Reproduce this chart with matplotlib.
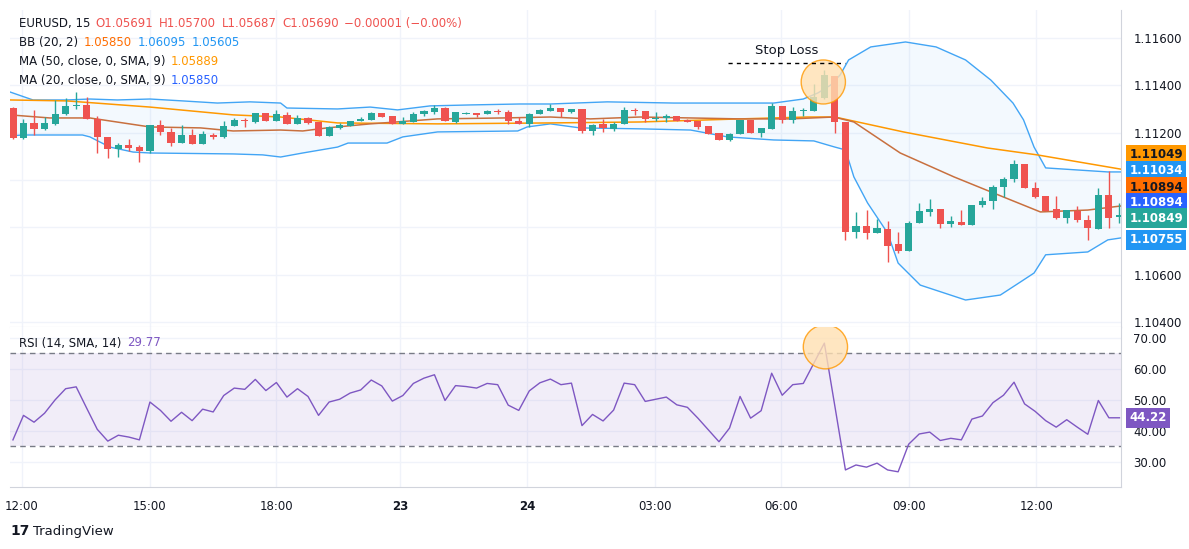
import numpy as np
import matplotlib
matplotlib.use("Agg")
import matplotlib.pyplot as plt
from matplotlib.patches import Ellipse

# --- data (EURUSD 15m) ---
opens = [1.11304, 1.11177, 1.11241, 1.11216, 1.11237, 1.11279, 1.11313, 1.11317, 1.11258, 1.11182,
         1.11131, 1.11148, 1.11139, 1.11123, 1.11232, 1.11203, 1.11156, 1.11190, 1.11152, 1.11190,
         1.11182, 1.11228, 1.11254, 1.11245, 1.11283, 1.11249, 1.11275, 1.11237, 1.11262, 1.11245,
         1.11186, 1.11220, 1.11228, 1.11249, 1.11254, 1.11283, 1.11270, 1.11237, 1.11245, 1.11279,
         1.11287, 1.11304, 1.11245, 1.11279, 1.11283, 1.11279, 1.11292, 1.11287, 1.11249, 1.11237,
         1.11279, 1.11292, 1.11304, 1.11287, 1.11300, 1.11207, 1.11237, 1.11216, 1.11237, 1.11296,
         1.11292, 1.11258, 1.11262, 1.11270, 1.11254, 1.11249, 1.11228, 1.11199, 1.11169, 1.11194,
         1.11254, 1.11199, 1.11216, 1.11313, 1.11254, 1.11292, 1.11292, 1.11347, 1.11439, 1.11245,
         1.10780, 1.10806, 1.10776, 1.10793, 1.10730, 1.10700, 1.10818, 1.10865, 1.10877, 1.10814,
         1.10823, 1.10810, 1.10894, 1.10911, 1.10970, 1.11004, 1.11068, 1.10966, 1.10932, 1.10877,
         1.10839, 1.10869, 1.10831, 1.10793, 1.10937, 1.10844]
highs = [1.11308, 1.11258, 1.11296, 1.11266, 1.11338, 1.11347, 1.11372, 1.11351, 1.11270, 1.11182,
         1.11156, 1.11173, 1.11148, 1.11232, 1.11254, 1.11220, 1.11232, 1.11216, 1.11207, 1.11199,
         1.11249, 1.11262, 1.11262, 1.11283, 1.11283, 1.11296, 1.11287, 1.11275, 1.11266, 1.11245,
         1.11228, 1.11241, 1.11249, 1.11266, 1.11287, 1.11283, 1.11270, 1.11266, 1.11287, 1.11296,
         1.11317, 1.11308, 1.11287, 1.11287, 1.11283, 1.11296, 1.11300, 1.11296, 1.11266, 1.11283,
         1.11300, 1.11321, 1.11304, 1.11300, 1.11300, 1.11237, 1.11258, 1.11245, 1.11308, 1.11304,
         1.11292, 1.11287, 1.11279, 1.11270, 1.11258, 1.11249, 1.11228, 1.11199, 1.11199, 1.11254,
         1.11254, 1.11220, 1.11325, 1.11313, 1.11308, 1.11304, 1.11406, 1.11465, 1.11439, 1.11245,
         1.10865, 1.10873, 1.10835, 1.10827, 1.10780, 1.10827, 1.10903, 1.10920, 1.10877, 1.10848,
         1.10873, 1.10894, 1.10928, 1.10979, 1.11013, 1.11085, 1.11068, 1.10992, 1.10932, 1.10932,
         1.10873, 1.10890, 1.10852, 1.10966, 1.11038, 1.10903]
lows = [1.11173, 1.11173, 1.11190, 1.11211, 1.11232, 1.11275, 1.11300, 1.11258, 1.11114, 1.11093,
        1.11097, 1.11123, 1.11076, 1.11114, 1.11190, 1.11144, 1.11156, 1.11152, 1.11152, 1.11173,
        1.11177, 1.11228, 1.11224, 1.11241, 1.11249, 1.11249, 1.11237, 1.11237, 1.11237, 1.11186,
        1.11186, 1.11216, 1.11228, 1.11249, 1.11254, 1.11266, 1.11237, 1.11237, 1.11245, 1.11270,
        1.11279, 1.11249, 1.11241, 1.11279, 1.11266, 1.11279, 1.11279, 1.11237, 1.11237, 1.11224,
        1.11279, 1.11292, 1.11266, 1.11283, 1.11199, 1.11190, 1.11203, 1.11207, 1.11237, 1.11275,
        1.11245, 1.11249, 1.11245, 1.11249, 1.11245, 1.11216, 1.11194, 1.11169, 1.11165, 1.11194,
        1.11199, 1.11182, 1.11216, 1.11241, 1.11241, 1.11270, 1.11292, 1.11342, 1.11199, 1.10747,
        1.10755, 1.10751, 1.10776, 1.10654, 1.10692, 1.10700, 1.10818, 1.10848, 1.10797, 1.10801,
        1.10810, 1.10810, 1.10886, 1.10877, 1.10928, 1.10992, 1.10966, 1.10924, 1.10869, 1.10835,
        1.10818, 1.10823, 1.10747, 1.10793, 1.10797, 1.10818]
closes = [1.11177, 1.11241, 1.11216, 1.11241, 1.11279, 1.11313, 1.11317, 1.11258, 1.11182, 1.11131,
          1.11148, 1.11135, 1.11123, 1.11232, 1.11203, 1.11156, 1.11190, 1.11152, 1.11194, 1.11182,
          1.11228, 1.11254, 1.11249, 1.11283, 1.11249, 1.11279, 1.11237, 1.11262, 1.11241, 1.11186,
          1.11224, 1.11232, 1.11249, 1.11258, 1.11283, 1.11266, 1.11237, 1.11249, 1.11279, 1.11292,
          1.11304, 1.11249, 1.11287, 1.11283, 1.11275, 1.11292, 1.11287, 1.11249, 1.11237, 1.11279,
          1.11296, 1.11304, 1.11287, 1.11300, 1.11207, 1.11232, 1.11220, 1.11237, 1.11296, 1.11292,
          1.11258, 1.11262, 1.11270, 1.11249, 1.11245, 1.11224, 1.11194, 1.11169, 1.11194, 1.11254,
          1.11199, 1.11220, 1.11313, 1.11254, 1.11292, 1.11296, 1.11351, 1.11444, 1.11245, 1.10780,
          1.10806, 1.10776, 1.10797, 1.10721, 1.10700, 1.10818, 1.10869, 1.10877, 1.10814, 1.10827,
          1.10810, 1.10894, 1.10911, 1.10970, 1.11004, 1.11068, 1.10966, 1.10928, 1.10869, 1.10839,
          1.10873, 1.10831, 1.10797, 1.10937, 1.10839, 1.10852]

rsi = [37.1, 45.0, 42.8, 45.7, 50.0, 53.6, 54.2, 47.3, 40.5, 36.7,
       38.6, 38.0, 37.1, 49.3, 46.6, 43.1, 46.0, 43.3, 47.0, 46.1,
       51.4, 53.8, 53.4, 56.6, 53.0, 55.6, 50.9, 53.6, 51.1, 45.0,
       49.3, 50.2, 52.2, 53.2, 56.4, 54.5, 49.6, 51.4, 55.3, 57.0,
       58.1, 49.8, 54.6, 54.3, 53.8, 55.3, 54.9, 48.3, 46.6, 52.9,
       55.5, 56.7, 54.9, 55.4, 41.7, 45.3, 43.2, 46.7, 55.4, 54.9,
       49.5, 50.2, 50.9, 48.4, 47.6, 44.1, 40.3, 36.5, 40.9, 51.1,
       44.1, 46.5, 58.6, 51.5, 54.9, 55.3, 61.8, 68.3, 47.9, 27.4,
       29.0, 28.3, 29.6, 27.4, 26.8, 35.7, 39.0, 39.6, 36.9, 37.6,
       37.1, 43.8, 44.8, 49.1, 51.5, 55.7, 48.7, 46.3, 43.3, 41.2,
       43.6, 41.2, 38.9, 49.8, 44.22, 44.22]
rsi_last = 44.22

# Bollinger bands and moving averages, sampled along the bar index
bb_up_x = [-0.3, 1.9, 5.1, 7.3, 9.9, 13.0, 16.1, 19.4, 22.5, 25.4, 26.0, 30.8, 33.9, 36.5, 39.6, 43.4,
           48.1, 51.0, 56.4, 62.7, 67.4, 72.2, 75.0, 76.4, 77.6, 78.5, 79.3, 81.4, 84.7, 87.6, 90.4,
           92.8, 94.9, 95.9, 96.9, 98.0, 103.9, 105.1]
bb_up = [1.11372, 1.11338, 1.11338, 1.11342, 1.11338, 1.11342, 1.11334, 1.11325, 1.11330, 1.11325,
         1.11304, 1.11300, 1.11308, 1.11296, 1.11313, 1.11317, 1.11321, 1.11321, 1.11330, 1.11325,
         1.11325, 1.11325, 1.11342, 1.11368, 1.11401, 1.11444, 1.11507, 1.11562, 1.11583, 1.11562,
         1.11507, 1.11422, 1.11325, 1.11254, 1.11139, 1.11051, 1.11034, 1.11034]
bb_lo_x = [-0.3, 0.9, 6.6, 7.3, 9.2, 11.4, 13.0, 20.9, 23.7, 25.4, 27.5, 30.8, 31.8, 35.5, 37.0, 40.3,
           47.9, 48.8, 51.0, 53.8, 59.5, 64.3, 67.8, 72.2, 76.0, 77.3, 78.0, 79.0, 79.8, 81.1, 83.0,
           84.0, 86.1, 90.4, 93.7, 95.6, 96.9, 98.0, 102.0, 103.9, 105.1]
bb_lo = [1.11186, 1.11190, 1.11190, 1.11182, 1.11139, 1.11118, 1.11114, 1.11110, 1.11106, 1.11097,
         1.11114, 1.11139, 1.11156, 1.11156, 1.11182, 1.11203, 1.11207, 1.11224, 1.11237, 1.11220,
         1.11216, 1.11211, 1.11182, 1.11169, 1.11165, 1.11148, 1.11139, 1.11127, 1.11013, 1.10903,
         1.10776, 1.10649, 1.10556, 1.10493, 1.10514, 1.10569, 1.10607, 1.10684, 1.10696, 1.10747,
         1.10755]
ma50_x = [-0.3, 5.1, 13.0, 20.9, 25.4, 30.8, 40.3, 51.0, 59.5, 69.0, 75.4, 78.0, 84.5, 92.5, 97.2, 105.1]
ma50 = [1.11338, 1.11334, 1.11308, 1.11275, 1.11266, 1.11241, 1.11237, 1.11241, 1.11245, 1.11258,
        1.11266, 1.11266, 1.11203, 1.11135, 1.11106, 1.11046]
ma20_x = [-0.3, 3.5, 7.3, 13.0, 17.8, 20.9, 25.4, 27.5, 29.8, 33.9, 40.3, 46.5, 51.0, 54.8, 59.5,
          64.3, 69.0, 73.8, 77.9, 79.8, 84.2, 89.3, 94.0, 97.5, 102.0, 105.1]
ma20 = [1.11275, 1.11262, 1.11262, 1.11224, 1.11220, 1.11207, 1.11211, 1.11207, 1.11220, 1.11237,
        1.11258, 1.11262, 1.11266, 1.11258, 1.11266, 1.11262, 1.11258, 1.11258, 1.11266, 1.11245,
        1.11114, 1.11013, 1.10928, 1.10865, 1.10873, 1.10890]

time_pos = [0.85, 12.97, 24.97, 36.75, 48.8, 60.9, 72.9, 85.0, 97.1]
time_labels = ["12:00", "15:00", "18:00", "23", "24", "03:00", "06:00", "09:00", "12:00"]
price_ticks = [1.104, 1.106, 1.108, 1.110, 1.112, 1.114, 1.116]
rsi_ticks = [30, 40, 50, 60, 70]

# right-scale badges: text, position, background, text colour
badges = [("1.11049", 1.11106, "#ff9800", "#131722"),
          ("1.11034", 1.11038, "#2196f3", "white"),
          ("1.10894", 1.10970, "#ff6d00", "#131722"),
          ("1.10894", 1.10903, "#2962ff", "white"),
          ("1.10849", 1.10839, "#26a69a", "white"),
          ("1.10755", 1.10747, "#2196f3", "white")]

GREEN, RED = "#26a69a", "#ef5350"
GRID = "#f0f3fa"
TXT = "#131722"

fig = plt.figure(figsize=(11.89, 5.49), dpi=100)
ax = fig.add_axes([10 / 1189, 222 / 549, 1111 / 1189, 317 / 549])
ax2 = fig.add_axes([10 / 1189, 62 / 549, 1111 / 1189, 160 / 549], sharex=ax)

x = np.arange(len(closes))
o, h, l, c = map(np.array, (opens, highs, lows, closes))
up = c >= o
cols = np.where(up, GREEN, RED)

# bands
ax.fill(np.concatenate([bb_up_x, bb_lo_x[::-1]]), np.concatenate([bb_up, bb_lo[::-1]]),
        color="#2196f3", alpha=0.05, lw=0, zorder=1)
ax.plot(bb_up_x, bb_up, color="#42a5f5", lw=1, zorder=2)
ax.plot(bb_lo_x, bb_lo, color="#42a5f5", lw=1, zorder=2)
ax.plot(ma50_x, ma50, color="#ff9800", lw=1.1, zorder=2)
ax.plot(ma20_x, ma20, color="#c8703f", lw=1.1, zorder=2)

# candles
ax.vlines(x, l, h, colors=cols, lw=1, zorder=3)
body = np.maximum(np.abs(c - o), 0.000015)
ax.bar(x, body, bottom=np.minimum(o, c), width=0.68, color=cols, zorder=4)

ax.set_xlim(-0.28, 105.15)
ax.set_ylim(1.10379, 1.11718)

# stop loss annotation
ax.add_patch(Ellipse((76.9, 1.11414), 4.2, 0.00186, facecolor="#ffe0b2", alpha=0.8,
                     edgecolor="#ff9800", lw=1, zorder=5))
ax.plot([67.9, 79.0], [1.11494, 1.11494], ls=(0, (3, 3)), color="black", lw=1, zorder=6)
ax.text(73.4, 1.11545, "Stop Loss", ha="center", va="center", fontsize=9.5, color=TXT)

# RSI pane
ax2.axhspan(35, 65, color="#7e57c2", alpha=0.1, lw=0)
ax2.axhline(65, color="#787b86", ls=(0, (4, 3)), lw=1)
ax2.axhline(35, color="#787b86", ls=(0, (4, 3)), lw=1)
ax2.plot(x, rsi, color="#7e57c2", lw=1, zorder=3)
ax2.add_patch(Ellipse((77.1, 67.1), 4.2, 14.2, facecolor="#ffe0b2", alpha=0.8,
                      edgecolor="#ff9800", lw=1, zorder=4))
ax2.set_ylim(21.9, 73.5)

for a in (ax, ax2):
    a.set_facecolor("white")
    a.grid(True, color=GRID, lw=1)
    a.set_axisbelow(True)
    a.yaxis.tick_right()
    a.tick_params(length=0, labelsize=8.5, labelcolor=TXT, pad=9)
    for s in ("left", "top"):
        a.spines[s].set_visible(False)
    for s in ("right", "bottom"):
        a.spines[s].set_color("#d1d4dc")
    a.set_xticks(time_pos)

ax.tick_params(labelbottom=False)
ax.set_yticks(price_ticks)
ax.set_yticklabels(["%.5f" % t if t not in (1.108, 1.110) else "" for t in price_ticks])
ax2.set_yticks(rsi_ticks)
ax2.set_yticklabels(["%.2f" % t for t in rsi_ticks])
ax2.set_xticklabels(time_labels)
for lab in ax2.get_xticklabels():
    if ":" not in lab.get_text():
        lab.set_fontweight("bold")

for txt, pos, bg, fg in badges:
    ax.text(1.0075, pos, txt, transform=ax.get_yaxis_transform(), va="center", ha="left",
            fontsize=8.5, color=fg, fontweight="bold",
            bbox=dict(boxstyle="square,pad=0.3", fc=bg, ec="none"))
ax2.text(1.0075, rsi_last, "%.2f" % rsi_last, transform=ax2.get_yaxis_transform(), va="center",
         ha="left", fontsize=8.5, color="white", fontweight="bold",
         bbox=dict(boxstyle="square,pad=0.3", fc="#7e57c2", ec="none"))


def legend_line(a, y, parts):
    t = a.text(0.008, y, parts[0][0], transform=a.transAxes, fontsize=8.5, color=parts[0][1],
               va="center")
    for s, col in parts[1:]:
        t = a.annotate(s, xy=(1, 0.5), xycoords=t, xytext=(4, 0), textcoords="offset points",
                       fontsize=8.5, color=col, va="center")


legend_line(ax, 0.958, [("EURUSD, 15", TXT), ("O1.05691", RED), ("H1.05700", RED),
                        ("L1.05687", RED), ("C1.05690", RED), ("\u22120.00001 (\u22120.00%)", RED)])
legend_line(ax, 0.898, [("BB (20, 2)", TXT), ("1.05850", "#ff6d00"), ("1.06095", "#2196f3"),
                        ("1.05605", "#2196f3")])
legend_line(ax, 0.838, [("MA (50, close, 0, SMA, 9)", TXT), ("1.05889", "#ff9800")])
legend_line(ax, 0.778, [("MA (20, close, 0, SMA, 9)", TXT), ("1.05850", "#2962ff")])
legend_line(ax2, 0.9, [("RSI (14, SMA, 14)", TXT), ("29.77", "#7e57c2")])

fig.text(10 / 1189, 1 - 531 / 549, "17", fontsize=10, fontweight="bold", color=TXT, va="center")
fig.text(33 / 1189, 1 - 531 / 549, "TradingView", fontsize=9.5, color=TXT, va="center")

fig.savefig("out.png", dpi=100, facecolor="white")
